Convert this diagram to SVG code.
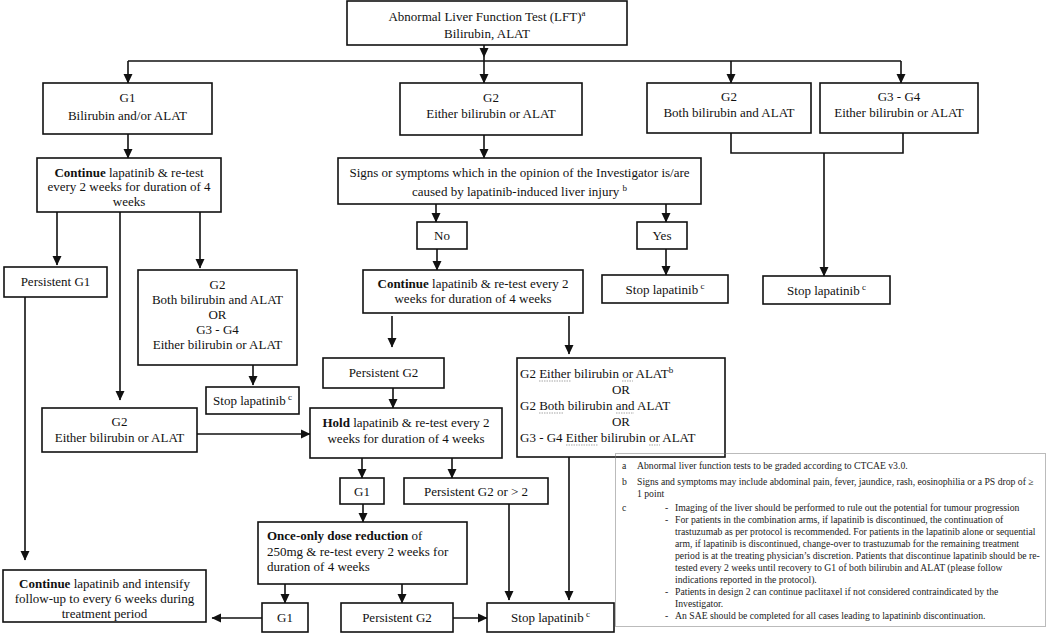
<svg xmlns="http://www.w3.org/2000/svg" width="1050" height="633" viewBox="0 0 1050 633">
<defs>
<marker id="ah" markerWidth="10" markerHeight="10" refX="9" refY="5" orient="auto" markerUnits="userSpaceOnUse"><path d="M0,0.5 L9.5,5 L0,9.5 z" fill="#111"/></marker>
<style>
.b{fill:#fff;stroke:#111;stroke-width:1.6}
.t{font-family:"Liberation Serif","Times New Roman",serif;font-size:13px;fill:#111}
.c{text-anchor:middle}
.l{fill:none;stroke:#111;stroke-width:1.6}
.a{fill:none;stroke:#111;stroke-width:1.6;marker-end:url(#ah)}
.u{stroke:#c4c4c4;stroke-width:1.3;stroke-dasharray:1.5 1}
.f{font-family:"Liberation Serif","Times New Roman",serif;font-size:9.7px;fill:#222}
.fb{fill:none;stroke:#777;stroke-width:1;stroke-dasharray:1 1}
.bd{font-weight:bold}
</style>
</defs>
<rect width="1050" height="633" fill="#fff"/>

<g id="connectors">
<path class="a" d="M484,45 V57"/>
<path class="l" d="M128,61 H901"/>
<path class="a" d="M484,57 V83"/>
<path class="a" d="M128,61 V83"/>
<path class="a" d="M731,61 V83"/>
<path class="a" d="M901,61 V83"/>
<path class="l" d="M731,133 V153 H903 V133"/>
<path class="a" d="M824,153 V276"/>
<path class="a" d="M128,134 V158"/>
<path class="a" d="M484,135 V158"/>
<path class="a" d="M436,204 V222"/>
<path class="a" d="M666,204 V222"/>
<path class="a" d="M437,249 V270"/>
<path class="a" d="M666,249 V275"/>
<path class="a" d="M57,212 V265"/>
<path class="a" d="M120,212 V400"/>
<path class="a" d="M200,212 V268"/>
<path class="a" d="M253,365 V385"/>
<path class="a" d="M197,434 H310"/>
<path class="a" d="M392,316 V347"/>
<path class="a" d="M569,316 V354"/>
<path class="a" d="M393,388 V408"/>
<path class="a" d="M25,297 V560"/>
<path class="a" d="M362,458 V478"/>
<path class="a" d="M452,458 V478"/>
<path class="a" d="M363,504 V522"/>
<path class="a" d="M509,504 V600"/>
<path class="a" d="M569,457 V600"/>
<path class="a" d="M285,584 V603"/>
<path class="a" d="M402,584 V603"/>
<path class="a" d="M453,618 H487"/>
<path class="a" d="M262,618 H212"/>
</g>

<g id="top">
<rect class="b" x="347" y="1" width="280" height="44"/>
<text class="t c" x="487" y="21">Abnormal Liver Function Test (LFT)<tspan dy="-5" font-size="9">a</tspan></text>
<text class="t c" x="487" y="38">Bilirubin, ALAT</text>
</g>

<g id="g1">
<rect class="b" x="43" y="83" width="169" height="51"/>
<text class="t c" x="127.5" y="102" font-size="14.5">G1</text>
<text class="t c" x="127.5" y="120" font-size="14.5">Bilirubin and/or ALAT</text>
</g>

<g id="g2either">
<rect class="b" x="400" y="83" width="182" height="52"/>
<text class="t c" x="491" y="101.5">G2</text>
<text class="t c" x="491" y="118">Either bilirubin or ALAT</text>
</g>

<g id="g2both">
<rect class="b" x="647" y="83" width="164" height="50"/>
<text class="t c" x="729" y="101">G2</text>
<text class="t c" x="729" y="117">Both bilirubin and ALAT</text>
</g>

<g id="g34">
<rect class="b" x="820" y="83" width="158" height="50"/>
<text class="t c" x="899" y="101">G3 - G4</text>
<text class="t c" x="899" y="117">Either bilirubin or ALAT</text>
</g>

<g id="continue1">
<rect class="b" x="37" y="158" width="184" height="54"/>
<text class="t c" x="129" y="176.5"><tspan class="bd">Continue</tspan> lapatinib &amp; re-test</text>
<text class="t c" x="129" y="191">every 2 weeks for duration of 4</text>
<text class="t c" x="129" y="205.5">weeks</text>
</g>

<g id="signs">
<rect class="b" x="338" y="158" width="363" height="46"/>
<text class="t c" x="519.5" y="177">Signs or symptoms which in the opinion of the Investigator is/are</text>
<text class="t c" x="519.5" y="196">caused by lapatinib-induced liver injury <tspan dy="-5" font-size="9">b</tspan></text>
</g>

<g id="no">
<rect class="b" x="417" y="222" width="50" height="27"/>
<text class="t c" x="442" y="240">No</text>
</g>

<g id="yes">
<rect class="b" x="637" y="222" width="50" height="27"/>
<text class="t c" x="662" y="240">Yes</text>
</g>

<g id="continue2">
<rect class="b" x="363" y="270" width="220" height="43"/>
<text class="t c" x="473" y="288"><tspan class="bd">Continue</tspan> lapatinib &amp; re-test every 2</text>
<text class="t c" x="473" y="303">weeks for duration of 4 weeks</text>
</g>

<g id="stopMid">
<rect class="b" x="602" y="275" width="126" height="28"/>
<text class="t c" x="665" y="294">Stop lapatinib<tspan dy="-5" font-size="9"> c</tspan></text>
</g>

<g id="stopRight">
<rect class="b" x="763" y="276" width="127" height="28"/>
<text class="t c" x="826.5" y="295">Stop lapatinib<tspan dy="-5" font-size="9"> c</tspan></text>
</g>

<g id="persistentG1">
<rect class="b" x="4" y="267" width="103" height="30"/>
<text class="t c" x="55.5" y="286">Persistent G1</text>
</g>

<g id="g2orLeft">
<rect class="b" x="138" y="270" width="159" height="95"/>
<text class="t c" x="217.5" y="289">G2</text>
<text class="t c" x="217.5" y="304">Both bilirubin and ALAT</text>
<text class="t c" x="217.5" y="319">OR</text>
<text class="t c" x="217.5" y="334">G3 - G4</text>
<text class="t c" x="217.5" y="349">Either bilirubin or ALAT</text>
</g>

<g id="stopLeft">
<rect class="b" x="206" y="387" width="93" height="27"/>
<text class="t c" x="252.5" y="405">Stop lapatinib<tspan dy="-5" font-size="9"> c</tspan></text>
</g>

<g id="g2Left">
<rect class="b" x="42" y="408" width="155" height="44"/>
<text class="t c" x="119.5" y="426">G2</text>
<text class="t c" x="119.5" y="442">Either bilirubin or ALAT</text>
</g>

<g id="persistentG2">
<rect class="b" x="323" y="358" width="121" height="30"/>
<text class="t c" x="383.5" y="377">Persistent G2</text>
</g>

<g id="g2orRight">
<rect class="b" x="517" y="358" width="208" height="99"/>
<text class="t" x="520" y="378">G2 Either bilirubin or ALAT<tspan dy="-5" font-size="9">b</tspan></text>
<text class="t c" x="621" y="394">OR</text>
<text class="t" x="520" y="410">G2 Both bilirubin and ALAT</text>
<text class="t c" x="621" y="426">OR</text>
<text class="t" x="520" y="442">G3 - G4 Either bilirubin or ALAT</text>
<path class="u" d="M539,381 H571 M622,381 H633 M539,413 H564 M616,413 H634 M566,445 H598 M649,445 H660"/>
</g>

<g id="hold">
<rect class="b" x="310" y="408" width="192" height="50"/>
<text class="t c" x="406" y="427"><tspan class="bd">Hold</tspan> lapatinib &amp; re-test every 2</text>
<text class="t c" x="406" y="443">weeks for duration of 4 weeks</text>
</g>

<g id="g1small">
<rect class="b" x="340" y="478" width="44" height="26"/>
<text class="t c" x="362" y="495.5">G1</text>
</g>

<g id="persistentG2or">
<rect class="b" x="404" y="478" width="144" height="26"/>
<text class="t c" x="476" y="495.5">Persistent G2 or &gt; 2</text>
</g>

<g id="onceOnly">
<rect class="b" x="258" y="522" width="209" height="62"/>
<text class="t" x="267" y="540"><tspan class="bd">Once-only dose reduction</tspan> of</text>
<text class="t" x="267" y="556">250mg &amp; re-test every 2 weeks for</text>
<text class="t" x="267" y="571">duration of 4 weeks</text>
</g>

<g id="continue3">
<rect class="b" x="3" y="570" width="203" height="52"/>
<text class="t c" x="104.5" y="588"><tspan class="bd">Continue</tspan> lapatinib and intensify</text>
<text class="t c" x="104.5" y="603">follow-up to every 6 weeks during</text>
<text class="t c" x="104.5" y="618">treatment period</text>
</g>

<g id="g1bottom">
<rect class="b" x="262" y="603" width="46" height="29"/>
<text class="t c" x="285" y="622">G1</text>
</g>

<g id="persistentG2bottom">
<rect class="b" x="341" y="603" width="112" height="29"/>
<text class="t c" x="397" y="622">Persistent G2</text>
</g>

<g id="stopBottom">
<rect class="b" x="487" y="603" width="127" height="29"/>
<text class="t c" x="550.5" y="622">Stop lapatinib<tspan dy="-5" font-size="9"> c</tspan></text>
</g>

<g id="footnotes">
<rect class="fb" x="615.5" y="453.5" width="430" height="173"/>
<text class="f" x="622" y="469">a</text>
<text class="f" x="637" y="469">Abnormal liver function tests to be graded according to CTCAE v3.0.</text>
<text class="f" x="622" y="485">b</text>
<text class="f" x="637" y="485">Signs and symptoms may include abdominal pain, fever, jaundice, rash, eosinophilia or a PS drop of ≥</text>
<text class="f" x="637" y="496.5">1 point</text>
<text class="f" x="622" y="511">c</text>
<text class="f" x="665" y="511">-</text>
<text class="f" x="675" y="511">Imaging of the liver should be performed to rule out the potential for tumour progression</text>
<text class="f" x="665" y="523">-</text>
<text class="f" x="675" y="523">For patients in the combination arms, if lapatinib is discontinued, the continuation of</text>
<text class="f" x="675" y="535">trastuzumab as per protocol is recommended. For patients in the lapatinib alone or sequential</text>
<text class="f" x="675" y="547">arm, if lapatinib is discontinued, change-over to trastuzumab for the remaining treatment</text>
<text class="f" x="675" y="559">period is at the treating physician’s discretion. Patients that discontinue lapatinib should be re-</text>
<text class="f" x="675" y="571">tested every 2 weeks until recovery to G1 of both bilirubin and ALAT (please follow</text>
<text class="f" x="675" y="583">indications reported in the protocol).</text>
<text class="f" x="665" y="595">-</text>
<text class="f" x="675" y="595">Patients in design 2 can continue paclitaxel if not considered contraindicated by the</text>
<text class="f" x="675" y="607">Investigator.</text>
<text class="f" x="665" y="619">-</text>
<text class="f" x="675" y="619">An SAE should be completed for all cases leading to lapatininb discontinuation.</text>
</g>
</svg>
